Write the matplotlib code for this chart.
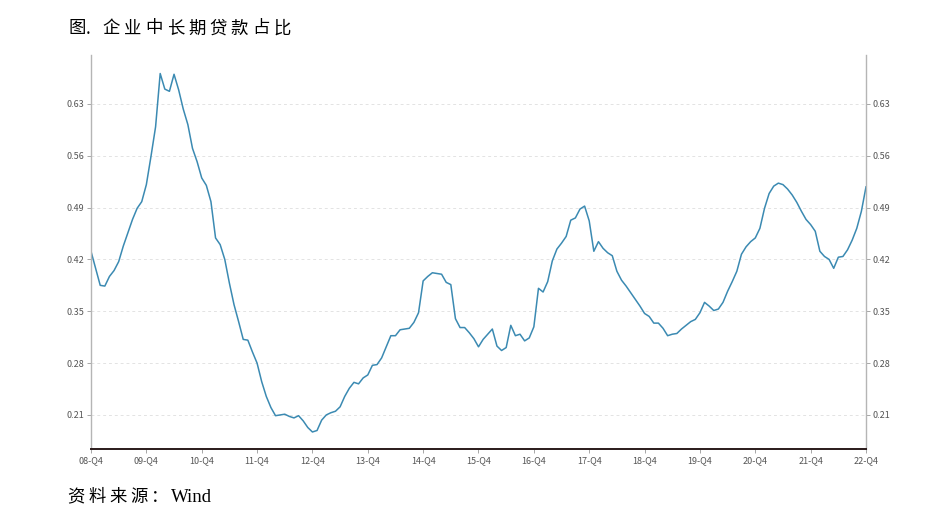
import matplotlib
matplotlib.use("Agg")
import matplotlib.pyplot as plt
import numpy as np

# 月度数据, 2008-12 至 2022-12
ratio = [
    0.431, 0.408, 0.385, 0.384, 0.397, 0.405, 0.417, 0.438, 0.456, 0.474, 0.489, 0.498,
    0.521, 0.559, 0.599, 0.671, 0.650, 0.647, 0.670, 0.649, 0.623, 0.602, 0.570, 0.552,
    0.530, 0.520, 0.498, 0.449, 0.440, 0.420, 0.388, 0.359, 0.336, 0.312, 0.311, 0.295,
    0.280, 0.255, 0.235, 0.220, 0.209, 0.210, 0.211, 0.208, 0.206, 0.209, 0.202, 0.193,
    0.187, 0.189, 0.203, 0.210, 0.213, 0.215, 0.221, 0.235, 0.246, 0.254, 0.252, 0.260,
    0.264, 0.277, 0.278, 0.287, 0.302, 0.317, 0.317, 0.325, 0.326, 0.327, 0.335, 0.348,
    0.391, 0.397, 0.402, 0.401, 0.400, 0.389, 0.386, 0.340, 0.328, 0.328, 0.321, 0.313,
    0.302, 0.312, 0.319, 0.326, 0.303, 0.297, 0.301, 0.331, 0.317, 0.319, 0.310, 0.314,
    0.329, 0.381, 0.376, 0.390, 0.418, 0.434, 0.442, 0.451, 0.473, 0.476, 0.488, 0.492,
    0.472, 0.431, 0.444, 0.435, 0.429, 0.425, 0.404, 0.392, 0.384, 0.375, 0.366, 0.357,
    0.347, 0.343, 0.334, 0.334, 0.327, 0.317, 0.319, 0.320, 0.326, 0.331, 0.336, 0.339,
    0.348, 0.362, 0.357, 0.351, 0.353, 0.362, 0.377, 0.390, 0.404, 0.427, 0.437, 0.444,
    0.449, 0.462, 0.489, 0.509, 0.519, 0.523, 0.521, 0.515, 0.507, 0.497, 0.485, 0.474,
    0.467, 0.458, 0.431, 0.424, 0.420, 0.408, 0.423, 0.424, 0.433, 0.446, 0.462, 0.485,
    0.518,
]
x_labels = ["08-Q4", "09-Q4", "10-Q4", "11-Q4", "12-Q4", "13-Q4", "14-Q4", "15-Q4",
            "16-Q4", "17-Q4", "18-Q4", "19-Q4", "20-Q4", "21-Q4", "22-Q4"]
y_ticks = [0.21, 0.28, 0.35, 0.42, 0.49, 0.56, 0.63]
title = "企业中长期贷款占比"
source = "资料来源："

W, H = 941, 531
plt.rcParams['font.family'] = ['Noto Sans CJK SC', 'DejaVu Sans']

fig = plt.figure(figsize=(W / 100, H / 100), dpi=100)
ax = fig.add_axes([0.0967, 0.1544, 0.8236, 0.742])

months = np.arange(len(ratio))
ax.plot(months, ratio, color='#3b8ab2', linewidth=1.1)

ax.set_xlim(0, len(ratio) - 1)
ax.set_ylim(0.164, 0.696)
ax.set_xticks(np.arange(0, len(ratio), 12))
ax.set_xticklabels(x_labels)
ax.set_yticks(y_ticks)
ax.set_yticklabels([f"{v:.2f}" for v in y_ticks])
ax.yaxis.grid(True, linestyle=(0, (3, 3)), color='#e3e3e3', linewidth=0.7)
ax.set_axisbelow(True)

ax.tick_params(axis='y', which='both', left=True, right=True, labelleft=True,
               labelright=True, labelsize=6.5, labelcolor='#555555',
               color='#999999', length=3, width=0.6, pad=2)
ax.tick_params(axis='x', labelsize=6.5, labelcolor='#555555', color='#999999',
               length=3, width=0.6, pad=2)

for side in ('left', 'right'):
    ax.spines[side].set_color('#b5b5b5')
    ax.spines[side].set_linewidth(1.0)
ax.spines['top'].set_visible(False)
ax.spines['bottom'].set_color('#2a1a1a')
ax.spines['bottom'].set_linewidth(1.4)


def spaced(x_px, y_px, chars, pitch, size):
    # 逐字排布, 模拟原图的字间距
    for i, ch in enumerate(chars):
        fig.text((x_px + i * pitch) / W, 1 - y_px / H, ch, fontsize=size,
                 color='black', ha='left', va='center')


fig.text(68 / W, 1 - 28.5 / H, "图", fontsize=12.5, ha='left', va='center')
fig.text(86 / W, 1 - 28.5 / H, ".", fontsize=12.5, ha='left', va='center')
spaced(102.5, 28.5, title, 21.4, 12.5)

spaced(67.5, 497, source, 20.8, 12.5)
fig.text(171 / W, 1 - 497 / H, "Wind", fontsize=13.5, family='Liberation Serif',
         ha='left', va='center')

fig.savefig("out.png", dpi=100)
